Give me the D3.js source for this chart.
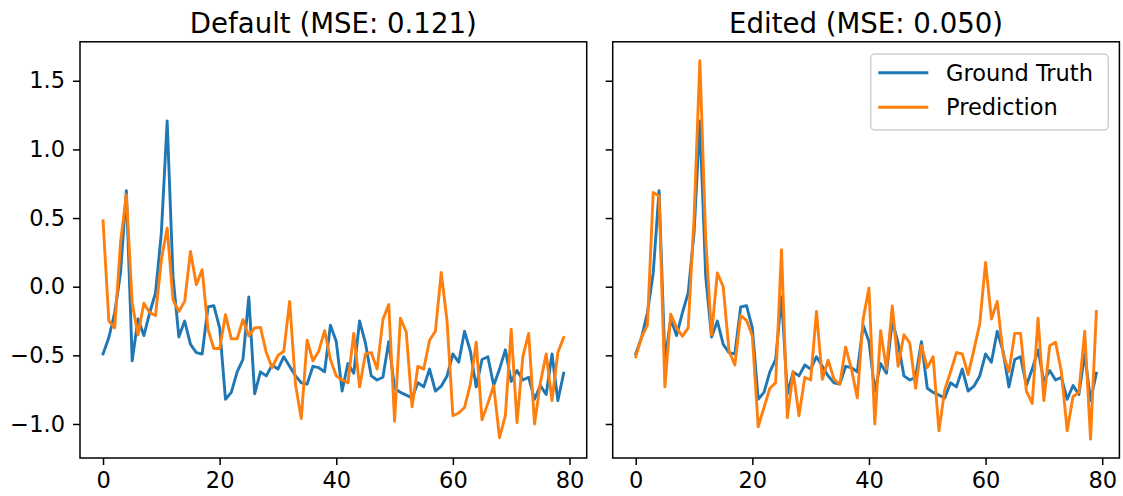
<!DOCTYPE html>
<html>
<head>
<meta charset="utf-8">
<script src="https://cdn.jsdelivr.net/npm/d3@7"></script>
<style>
  body { margin: 0; background: #fff; }
  svg text { font-family: "DejaVu Sans", sans-serif; fill: #000; }
</style>
</head>
<body>
<div id="container"></div>
<script>
// values (x = 0..79)
var groundTruth = [
  -0.49, -0.37, -0.19, 0.10, 0.70, -0.54, -0.235, -0.356, -0.19, -0.046,
  0.39, 1.207, 0.075, -0.366, -0.25, -0.42, -0.48, -0.49, -0.148, -0.138,
  -0.30, -0.82, -0.77, -0.62, -0.53, -0.075, -0.78, -0.62, -0.65, -0.57,
  -0.60, -0.51, -0.58, -0.65, -0.70, -0.71, -0.58, -0.59, -0.62, -0.28,
  -0.40, -0.76, -0.56, -0.63, -0.25, -0.41, -0.65, -0.68, -0.66, -0.40,
  -0.74, -0.77, -0.79, -0.81, -0.70, -0.73, -0.60, -0.76, -0.725, -0.65,
  -0.49, -0.55, -0.325, -0.47, -0.73, -0.53, -0.51, -0.72, -0.60, -0.46,
  -0.69, -0.61, -0.68, -0.66, -0.82, -0.72, -0.785, -0.49, -0.83, -0.63
];

var predDefault = [
  0.48, -0.25, -0.30, 0.32, 0.67, -0.12, -0.35, -0.12, -0.19, -0.21,
  0.196, 0.427, -0.095, -0.18, -0.107, 0.257, 0.015, 0.124, -0.31, -0.45,
  -0.45, -0.204, -0.38, -0.38, -0.24, -0.36, -0.30, -0.296, -0.48, -0.59,
  -0.50, -0.47, -0.107, -0.71, -0.96, -0.39, -0.54, -0.47, -0.32, -0.53,
  -0.65, -0.68, -0.70, -0.34, -0.73, -0.49, -0.48, -0.60, -0.24, -0.13,
  -0.98, -0.23, -0.33, -0.875, -0.58, -0.60, -0.39, -0.325, 0.104, -0.25,
  -0.94, -0.92, -0.88, -0.71, -0.405, -0.97, -0.85, -0.72, -1.10, -0.94,
  -0.31, -0.99, -0.51, -0.34, -1.00, -0.70, -0.49, -0.83, -0.48, -0.37
];

var predEdited = [
  -0.51, -0.37, -0.28, 0.686, 0.66, -0.73, -0.20, -0.30, -0.36, -0.30,
  0.50, 1.646, 0.35, -0.35, 0.10, 0.0, -0.47, -0.57, -0.21, -0.245,
  -0.36, -1.02, -0.88, -0.74, -0.70, 0.27, -0.955, -0.62, -0.94, -0.66,
  -0.68, -0.18, -0.675, -0.535, -0.675, -0.71, -0.44, -0.60, -0.81, -0.235,
  -0.01, -1.00, -0.32, -0.60, -0.14, -0.58, -0.35, -0.41, -0.74, -0.43,
  -0.59, -0.51, -1.05, -0.75, -0.62, -0.48, -0.49, -0.64, -0.46, -0.27,
  0.177, -0.235, -0.107, -0.49, -0.62, -0.34, -0.34, -0.76, -0.85, -0.23,
  -0.83, -0.43, -0.405, -0.62, -1.05, -0.80, -0.77, -0.325, -1.11, -0.18
];

var panelTitles = ["Default (MSE: 0.121)", "Edited (MSE: 0.050)"];
var seriesNames = ["Ground Truth", "Prediction"];
var xTicks = [0, 20, 40, 60, 80];
var yTicks = [-1.0, -0.5, 0.0, 0.5, 1.0, 1.5];

var w = 1123,
    h = 496;

var svg = d3.select("div#container")
  .append("svg")
  .attr("width", w)
  .attr("height", h);

var color = ["#1f77b4", "#ff7f0e"];

// axes boxes (pixel layout of the two subplots)
var panelLeft = [80, 612.7],
    panelW = 506.7,
    axTop = 41.8,
    axBottom = 458;

// matplotlib style 5% margins, y shared across both panels
var n = groundTruth.length;
var xPad = (n - 1) * 0.05;
var allY = groundTruth.concat(predDefault, predEdited);
var yMin = d3.min(allY), yMax = d3.max(allY);
var yPad = (yMax - yMin) * 0.05;

var y = d3.scaleLinear()
    .domain([yMin - yPad, yMax + yPad])
    .range([axBottom, axTop]);

var preds = [predDefault, predEdited];

panelLeft.forEach(function(left, p) {
  var x = d3.scaleLinear()
      .domain([-xPad, n - 1 + xPad])
      .range([left, left + panelW]);

  var g = svg.append("g");

  // x axis
  var xAxis = g.append("g")
      .attr("transform", "translate(0," + axBottom + ")")
      .call(d3.axisBottom(x).tickValues(xTicks).tickSize(7).tickPadding(7).tickFormat(d3.format("d")));
  xAxis.select(".domain").remove();
  xAxis.selectAll("text").style("font-size", "22.5px").style("font-family", "DejaVu Sans");
  xAxis.selectAll("line").attr("stroke-width", 1.5);

  // y axis (labels only on the left panel)
  var yAxis = g.append("g")
      .attr("transform", "translate(" + left + ",0)")
      .call(d3.axisLeft(y).tickValues(yTicks).tickSize(7).tickPadding(8)
        .tickFormat(p === 0 ? d3.format(".1f") : ""));
  yAxis.select(".domain").remove();
  yAxis.selectAll("text").style("font-size", "22.5px").style("font-family", "DejaVu Sans");
  yAxis.selectAll("line").attr("stroke-width", 1.5);

  var line = d3.line()
      .x(function(d, i) { return x(i); })
      .y(function(d) { return y(d); });

  [groundTruth, preds[p]].forEach(function(series, s) {
    g.append("path")
      .datum(series)
      .attr("fill", "none")
      .attr("stroke", color[s])
      .attr("stroke-width", 2.9)
      .attr("stroke-linejoin", "round")
      .attr("stroke-linecap", "square")
      .attr("d", line);
  });

  // frame
  g.append("rect")
    .attr("x", left)
    .attr("y", axTop)
    .attr("width", panelW)
    .attr("height", axBottom - axTop)
    .attr("fill", "none")
    .attr("stroke", "#000")
    .attr("stroke-width", 1.5);

  g.append("text")
    .attr("x", left + panelW / 2)
    .attr("y", 33)
    .attr("text-anchor", "middle")
    .style("font-size", "27.6px")
    .text(panelTitles[p]);
});

// legend in the right panel
var legend = svg.append("g").attr("transform", "translate(870.7,54)");

legend.append("rect")
  .attr("width", 237.6)
  .attr("height", 76)
  .attr("rx", 4)
  .attr("fill", "#fff")
  .attr("fill-opacity", 0.8)
  .attr("stroke", "#d0d0d0")
  .attr("stroke-width", 1.5);

seriesNames.forEach(function(name, i) {
  var ly = 18.7 + i * 34.6;
  legend.append("line")
    .attr("x1", 7.6)
    .attr("x2", 57.6)
    .attr("y1", ly)
    .attr("y2", ly)
    .attr("stroke", color[i])
    .attr("stroke-width", 2.9);
  legend.append("text")
    .attr("x", 75.3)
    .attr("y", ly)
    .attr("dy", "0.36em")
    .style("font-size", "22.5px")
    .text(name);
});
</script>
</body>
</html>
